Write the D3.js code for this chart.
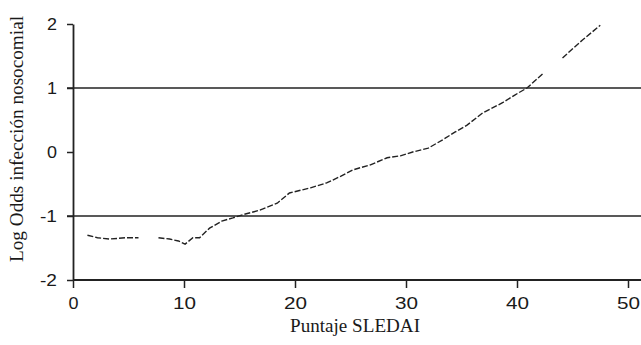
<!DOCTYPE html>
<html>
<head>
<meta charset="utf-8">
<script src="https://cdn.jsdelivr.net/npm/d3@7"></script>
<style>
  body { margin: 0; background: #fff; }
  svg { font-family: "Liberation Serif", "Times New Roman", serif; }
  .tick text { font-size: 17px; fill: #1a1a1a; }
</style>
</head>
<body>
<div id="chart"></div>
<script>
// SLEDAI score and log odds (null = gap in the drawn curve)
const sledai = [1.3, 2.2, 3.3, 4.7, 5.9, 6.8, 7.7, 8.7, 9.5, 10.1, 10.8, 11.4, 12.3, 13.4, 14.4, 15.3, 16.8, 18.4, 19.5, 21.4, 22.9, 24.1, 25.2, 26.8, 28.3, 29.5, 30.6, 32.0, 33.3, 34.4, 35.5, 36.9, 38.7, 39.8, 40.9, 42.3, 43.2, 44.1, 45.9, 47.5];
const logOdds = [-1.30, -1.34, -1.36, -1.34, -1.34, null, -1.34, -1.36, -1.39, -1.44, -1.34, -1.34, -1.19, -1.08, -1.03, -0.98, -0.91, -0.80, -0.64, -0.56, -0.48, -0.38, -0.28, -0.20, -0.09, -0.06, 0.0, 0.06, 0.19, 0.31, 0.42, 0.61, 0.77, 0.89, 1.0, 1.22, null, 1.47, 1.75, 1.98];
const xTicks = [0, 10, 20, 30, 40, 50];
const yTicks = [-2, -1, 0, 1, 2];
const refLines = [-1, 1];

const width = 641, height = 345;
const margin = { top: 24, right: 13, bottom: 65, left: 73 };

const svg = d3.select("#chart").append("svg")
    .attr("width", width)
    .attr("height", height);

let x = d3.scaleLinear()
    .domain([0, 50])
    .range([margin.left, width - margin.right]);

let y = d3.scaleLinear()
    .domain([-2, 2])
    .range([height - margin.bottom, margin.top]);

// x axis
let xa = svg.append("g")
    .attr("transform", `translate(0,${y(-2)})`)
    .call(d3.axisBottom(x).tickValues(xTicks).tickSize(8).tickSizeOuter(0).tickPadding(9));
xa.select(".domain").remove();
xa.selectAll(".tick line").attr("stroke", "#222").attr("stroke-width", 1.5);
xa.selectAll(".tick text").attr("textLength", d => d === 0 ? 10 : 23).attr("lengthAdjust", "spacingAndGlyphs");

svg.append("line")
    .attr("x1", x(0)).attr("x2", width)
    .attr("y1", y(-2)).attr("y2", y(-2))
    .attr("stroke", "#222").attr("stroke-width", 1.8);

// y axis
let ya = svg.append("g")
    .attr("transform", `translate(${x(0)},0)`)
    .call(d3.axisLeft(y).tickValues(yTicks).tickFormat(d3.format("d")).tickSize(6).tickSizeOuter(0).tickPadding(10));
ya.select(".domain").attr("stroke", "#222").attr("stroke-width", 1.8);
ya.selectAll(".tick line").attr("stroke", "#222").attr("stroke-width", 1.5);
ya.selectAll(".tick text")
    .text(d => d < 0 ? "-" + Math.abs(d) : d)
    .attr("textLength", d => d < 0 ? 17 : 10)
    .attr("lengthAdjust", "spacingAndGlyphs");

// reference lines
svg.selectAll(".ref")
    .data(refLines)
    .join("line")
    .attr("class", "ref")
    .attr("x1", x(0) - 6).attr("x2", width)
    .attr("y1", d => y(d)).attr("y2", d => y(d))
    .attr("stroke", "#222").attr("stroke-width", 1.6);

// curve
const pts = sledai.map((s, i) => ({ s: s, v: logOdds[i] }));
let line = d3.line()
    .defined(d => d.v !== null)
    .x(d => x(d.s))
    .y(d => y(d.v));

svg.append("path")
    .datum(pts)
    .attr("fill", "none")
    .attr("stroke", "#222")
    .attr("stroke-width", 1.4)
    .attr("stroke-dasharray", "6,2")
    .attr("d", line);

// labels
svg.append("text")
    .attr("x", 355)
    .attr("y", 332)
    .attr("text-anchor", "middle")
    .attr("font-size", 18)
    .attr("fill", "#1a1a1a")
    .attr("textLength", 130)
    .attr("lengthAdjust", "spacingAndGlyphs")
    .text("Puntaje SLEDAI");

svg.append("text")
    .attr("transform", "rotate(-90)")
    .attr("x", -139)
    .attr("y", 23)
    .attr("text-anchor", "middle")
    .attr("font-size", 18)
    .attr("fill", "#1a1a1a")
    .attr("textLength", 246)
    .attr("lengthAdjust", "spacingAndGlyphs")
    .text("Log Odds infección nosocomial");
</script>
</body>
</html>
